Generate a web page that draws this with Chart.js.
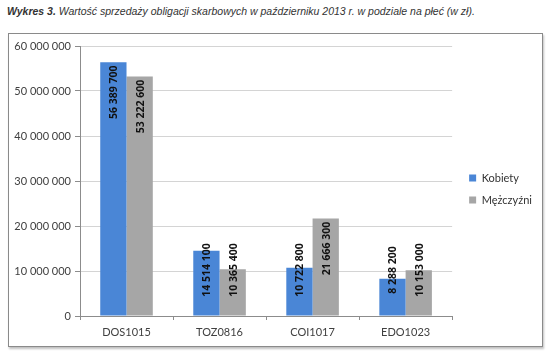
<!DOCTYPE html>
<html><head><meta charset="utf-8">
<script src="https://cdn.jsdelivr.net/npm/chart.js@4/dist/chart.umd.min.js"></script>
<style>
html,body{margin:0;padding:0;background:#fff;width:550px;height:356px;overflow:hidden}
#title{position:absolute;left:7px;top:5px;font-family:"Liberation Sans",Arial,sans-serif;font-size:10.5px;font-style:italic;color:#333;white-space:nowrap}
#title b{font-weight:bold}
#frame{position:absolute;left:8px;top:33px;width:533px;height:312px;border:1px solid #8a8a8a;box-shadow:1px 2px 2px rgba(0,0,0,0.25);background:#fff}
#c{position:absolute;left:0;top:0}
</style></head>
<body>
<div id="title"><b>Wykres 3.</b> Wartość sprzedaży obligacji skarbowych w październiku 2013 r. w podziale na płeć (w zł).</div>
<div id="frame"><canvas id="c" width="533" height="312"></canvas></div>
<script>
const categories = ["DOS1015", "TOZ0816", "COI1017", "EDO1023"];
const seriesNames = ["Kobiety", "Mężczyźni"];
const kobiety = [56389700, 14514100, 10722800, 8288200];
const mezczyzni = [53222600, 10365400, 21666300, 10153000];
const yTicks = [0, 10000000, 20000000, 30000000, 40000000, 50000000, 60000000];

function fmt(v){ return String(Math.round(v)).replace(/\B(?=(\d{3})+(?!\d))/g, " "); }

const labelPlugin = {
  id: 'barLabels',
  afterDatasetsDraw(chart){
    const ctx = chart.ctx;
    const base = chart.scales.y.getPixelForValue(0);
    chart.data.datasets.forEach((ds, di) => {
      const meta = chart.getDatasetMeta(di);
      meta.data.forEach((bar, i) => {
        const txt = fmt(ds.data[i]);
        ctx.save();
        ctx.font = 'bold 10.5px "Open Sans", Lato, sans-serif';
        let cy = bar.y + 30;
        if (cy > base - 46) cy = base - 46;
        ctx.translate(bar.x, cy);
        ctx.rotate(-Math.PI/2);
        ctx.fillStyle = '#111';
        ctx.textAlign = 'center';
        ctx.textBaseline = 'middle';
        ctx.fillText(txt, 0, 1);
        ctx.restore();
      });
    });
  }
};

const legendShift = {
  id: 'legendShift',
  afterLayout(chart){
    const lg = chart.legend;
    if (!lg) return;
    lg.top -= 7; lg.bottom -= 7;
    lg.left += 6; lg.right += 6;
  }
};

new Chart(document.getElementById('c'), {
  type: 'bar',
  data: {
    labels: categories,
    datasets: [
      {label: seriesNames[0], data: kobiety, backgroundColor: '#4a86d6', barPercentage: 1, categoryPercentage: 0.565},
      {label: seriesNames[1], data: mezczyzni, backgroundColor: '#a6a6a6', barPercentage: 1, categoryPercentage: 0.565}
    ]
  },
  options: {
    responsive: false,
    animation: false,
    layout: {padding: {top: 12, right: 6, left: 0, bottom: 0}},
    plugins: {
      title: {display: false},
      tooltip: {enabled: false},
      legend: {
        position: 'right',
        labels: {boxWidth: 7, boxHeight: 7, padding: 11, color: '#333', font: {family: 'Lato, "Open Sans", sans-serif', size: 11}}
      }
    },
    scales: {
      y: {
        min: 0, max: 60000000,
        afterFit(s){ s.width = 71; },
        afterBuildTicks(s){ s.ticks = yTicks.map(v => ({value: v})); },
        ticks: {callback: v => fmt(v), color: '#404040', padding: 4, font: {family: 'Lato, "Open Sans", sans-serif', size: 11}},
        grid: {color: '#d4d4d4', tickLength: 5, tickColor: '#8c8c8c'},
        border: {color: '#8c8c8c'}
      },
      x: {
        afterFit(s){ s.height = 30; },
        ticks: {color: '#404040', padding: 6, font: {family: 'Lato, "Open Sans", sans-serif', size: 11}},
        grid: {offset: true, drawOnChartArea: false, tickLength: 4, tickColor: '#8c8c8c'},
        border: {color: '#8c8c8c'}
      }
    }
  },
  plugins: [labelPlugin, legendShift]
});
</script>
</body></html>
